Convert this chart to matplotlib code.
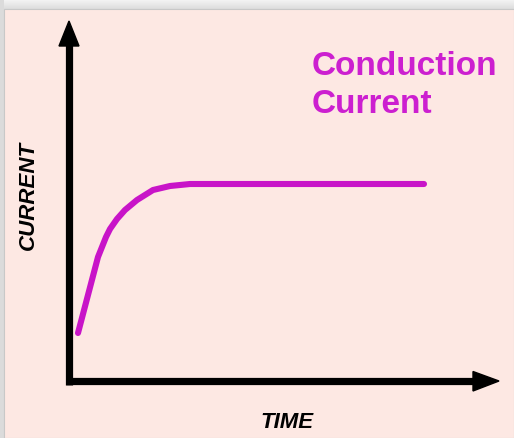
import matplotlib
matplotlib.use("Agg")
import matplotlib.pyplot as plt
import numpy as np
from matplotlib.patches import Polygon, Rectangle

# Data (arbitrary units)
time = [9, 29, 33, 37, 41, 48, 56, 68, 84, 101, 121, 131, 355]
current = [48, 124, 134, 144, 152, 162, 171, 181, 191, 195, 197, 197, 197]

title_lines = ["Conduction", "Current"]
x_label = "TIME"
y_label = "CURRENT"

W, H = 514, 438
fig = plt.figure(figsize=(W / 100, H / 100), dpi=100)
fig.patch.set_facecolor("#ebebeb")

# background shadow gradient + pink panel
bg = fig.add_axes([0, 0, 1, 1])
bg.set_axis_off()
grad = np.linspace(0.95, 0.86, 10)[:, None] * np.ones((10, 10))
bg.imshow(np.dstack([grad, grad, grad]), extent=[0, W, H - 10, H], aspect="auto", zorder=0)
bg.imshow(np.dstack([np.full((10, 10), 0.86)] * 3), extent=[0, 4, 0, H], aspect="auto", zorder=0)
bg.add_patch(Rectangle((4, 0), W - 4, H - 9, facecolor="#fde8e3", edgecolor="#c8c8c8", lw=0.8, zorder=1))
bg.set_xlim(0, W)
bg.set_ylim(0, H)

ax = fig.add_axes([0, 0, 1, 1])
ax.set_axis_off()
ax.patch.set_alpha(0)
ax.set_xlim(-69, W - 69)
ax.set_ylim(381 - H, 381)

# axes arrows
ax.plot([0, 0], [-4, 337], color="black", lw=5.2, solid_capstyle="butt", zorder=3)
ax.add_patch(Polygon([[-10, 335], [10, 335], [0, 360]], closed=True, color="black", zorder=3))
ax.plot([-3, 406], [0, 0], color="black", lw=5.2, solid_capstyle="butt", zorder=3)
ax.add_patch(Polygon([[404, -10], [404, 9.5], [430, 0]], closed=True, color="black", zorder=3))

# curve
ax.plot(time, current, color="#c814c8", lw=4.4, solid_capstyle="round",
        solid_joinstyle="round", zorder=4)

# texts
fam = ["Liberation Sans", "DejaVu Sans"]
ax.text(243, 381 - 75, title_lines[0], color="#cc1fd0", fontsize=24, fontweight="bold",
        family=fam, ha="left", va="baseline", zorder=5)
ax.text(243, 381 - 113, title_lines[1], color="#cc1fd0", fontsize=24, fontweight="bold",
        family=fam, ha="left", va="baseline", zorder=5)
ax.text(218, 381 - 423, x_label, fontsize=16, fontweight="bold", fontstyle="italic",
        family=fam, ha="center", va="center", zorder=5)
ax.text(-41, 381 - 195, y_label, fontsize=16, fontweight="bold", fontstyle="italic",
        family=fam, ha="center", va="center", rotation=90, zorder=5)

fig.savefig("out.png", dpi=100, facecolor=fig.get_facecolor())
